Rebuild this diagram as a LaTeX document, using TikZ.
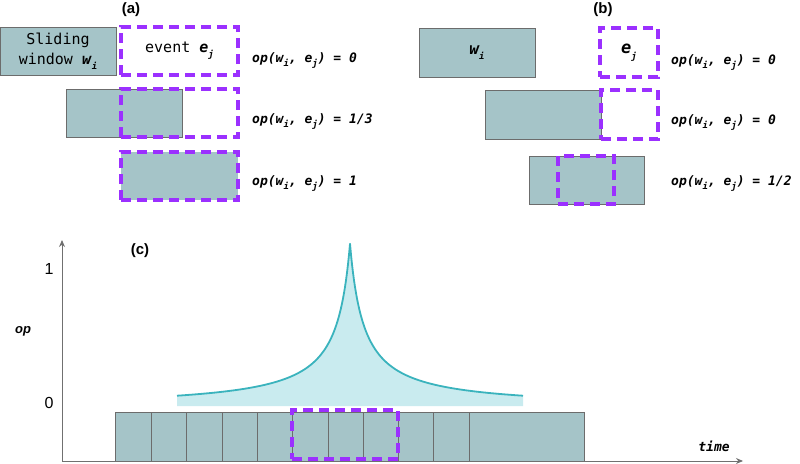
\documentclass[tikz,border=0pt]{standalone}
\usepackage{fontspec}
\setmainfont{Liberation Sans}
\setsansfont{Liberation Sans}
\setmonofont{DejaVu Sans Mono}
\usetikzlibrary{arrows.meta}
\definecolor{winfill}{HTML}{A5C4C8}
\definecolor{wborder}{HTML}{6C6C6C}
\definecolor{evtcol}{HTML}{9B30FF}
\definecolor{curvecol}{HTML}{3AB3BD}
\definecolor{curvefill}{HTML}{C9EBEF}
\definecolor{axiscol}{HTML}{707070}
\newcommand{\lo}[1]{\raisebox{-0.6ex}{\fontsize{9}{10}\selectfont #1}}
\tikzset{
  winbox/.style={draw=wborder, fill=winfill, line width=1pt, rectangle, inner sep=0pt},
  evtbox/.style={draw=evtcol, line width=3.2pt, dash pattern=on 10pt off 6pt, rectangle, inner sep=0pt},
  oplab/.style={font=\ttfamily\bfseries\itshape\fontsize{13}{15}\selectfont, anchor=base west, inner sep=0pt},
  panel/.style={font=\sffamily\bfseries\fontsize{15}{17}\selectfont, inner sep=0pt},
  tick/.style={font=\sffamily\fontsize{16}{18}\selectfont, inner sep=0pt},
  axis/.style={draw=axiscol, line width=1pt, -{Stealth[length=7pt,width=6pt]}},
}
\begin{document}
\begin{tikzpicture}[x=1pt,y=-1pt]
\useasboundingbox (0,0) rectangle (800,463);

% ---------- panel (a)
\node[panel] (pa) at (131,10) {(a)};
\node[winbox, minimum width=116pt, minimum height=48pt, align=center,
      font=\ttfamily\fontsize{15}{20}\selectfont] (sw) at (58,51)
      {Sliding\\window \textbf{\textit{w}}\lo{\textbf{\textit{i}}}};
\node[evtbox, minimum width=117pt, minimum height=48pt,
      font=\ttfamily\fontsize{15}{18}\selectfont] (ev1) at (179.5,51)
      {event \textbf{\textit{e}}\lo{\textbf{\textit{j}}}};
\node[winbox, minimum width=116pt, minimum height=48pt] (wa2) at (124,113) {};
\node[evtbox, minimum width=117pt, minimum height=48pt] (ev2) at (179.5,113) {};
\node[evtbox, fill=winfill, minimum width=117pt, minimum height=48pt] (ev3) at (179.5,176) {};
\node[oplab] (la1) at (252,62) {op(w\lo{i}, e\lo{j}) = 0};
\node[oplab] (la2) at (252,123) {op(w\lo{i}, e\lo{j}) = 1/3};
\node[oplab] (la3) at (252,185) {op(w\lo{i}, e\lo{j}) = 1};

% ---------- panel (b)
\node[panel] (pb) at (603,10) {(b)};
\node[winbox, minimum width=116pt, minimum height=49pt,
      font=\ttfamily\bfseries\itshape\fontsize{16}{18}\selectfont] (wb1) at (477,52.5) {w\lo{i}};
\node[evtbox, minimum width=58pt, minimum height=49pt,
      font=\ttfamily\bfseries\itshape\fontsize{17}{18}\selectfont] (eb1) at (629,52.5) {e\lo{j}};
\node[winbox, minimum width=116pt, minimum height=49pt] (wb2) at (543,114.5) {};
\node[evtbox, minimum width=57pt, minimum height=49pt] (eb2) at (629.5,114.5) {};
\node[winbox, minimum width=115pt, minimum height=48pt] (wb3) at (586.5,180) {};
\node[evtbox, minimum width=56pt, minimum height=48pt] (eb3) at (586,180) {};
\node[oplab] (lb1) at (671,64) {op(w\lo{i}, e\lo{j}) = 0};
\node[oplab] (lb2) at (671,124) {op(w\lo{i}, e\lo{j}) = 0};
\node[oplab] (lb3) at (671,185) {op(w\lo{i}, e\lo{j}) = 1/2};

% ---------- panel (c)
\coordinate (org) at (62,461);
\coordinate (ytop) at (62,240);
\coordinate (xend) at (743,461);
\fill[curvefill] (177,406) -- plot[domain=177:523, samples=347] (\x,{406-(2300/(abs(\x-350)+14)-2)}) -- (523,406) -- cycle;
\draw[curvecol, line width=1.8pt, line join=round] plot[domain=177:523, samples=347] (\x,{406-(2300/(abs(\x-350)+14)-2)});
\foreach \i/\a/\b in {1/115/151,2/151/186,3/186/222,4/222/257,5/257/292,6/292/328,7/328/363,8/363/398,9/398/433,10/433/469,11/469/584}{
  \node[winbox, minimum width={(\b-\a)*1pt}, minimum height=49pt] (cell\i) at ({(\a+\b)/2},436.5) {};
}
\node[evtbox, minimum width=106pt, minimum height=49pt] (evc) at (345,434.5) {};
\draw[axis] (org) -- (ytop);
\draw[axis] (org) -- (xend);
\node[panel] (pc) at (140,251) {(c)};
\node[tick] (t1) at (49,269) {1};
\node[tick] (t0) at (49,403) {0};
\node[font=\sffamily\bfseries\itshape\fontsize{13}{15}\selectfont, inner sep=0pt] (opl) at (23,331) {op};
\node[font=\ttfamily\bfseries\itshape\fontsize{13}{15}\selectfont, inner sep=0pt] (tl) at (714,446) {time};
\end{tikzpicture}
\end{document}
